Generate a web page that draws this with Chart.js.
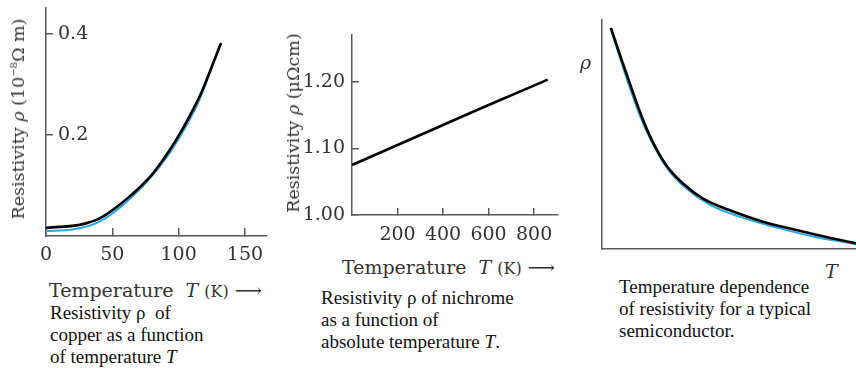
<!DOCTYPE html>
<html>
<head>
<meta charset="utf-8">
<script src="https://cdn.jsdelivr.net/npm/chart.js@4/dist/chart.umd.min.js"></script>
<style>
  body { margin: 0; width: 856px; height: 368px; background: #fff; position: relative; overflow: hidden; }
  canvas { position: absolute; }
  .lbl { position: absolute; white-space: nowrap; color: #333; font-family: 'DejaVu Serif', serif; font-size: 19px; line-height: 20px; }
  .ytitle { font-size: 17.5px; }
  .vert { transform: translate(-50%, -50%) rotate(-90deg); }
  .lbl sup { font-size: 10px; vertical-align: 7px; line-height: 0; }
  .small { font-size: 16px; }
  .cap { position: absolute; white-space: nowrap; color: #111; font-family: 'Liberation Serif', serif; font-size: 19px; line-height: 22px; }
</style>
</head>
<body>
<canvas id="copperChart" width="280" height="275" style="left:0;top:0"></canvas>
<canvas id="nichromeChart" width="270" height="255" style="left:296px;top:0"></canvas>
<canvas id="semiChart" width="266" height="260" style="left:590px;top:0"></canvas>

<div class="lbl ytitle vert" style="left:18px;top:119px">Resistivity <i>ρ</i> (10<sup>−8</sup>Ω m)</div>
<div class="lbl" style="left:49px;top:280px">Temperature&nbsp; <i>T</i> <span class="small">(K)</span> ⟶</div>
<div class="cap" style="left:50px;top:302px">Resistivity ρ&nbsp; of<br>copper as a function<br>of temperature <i>T</i></div>

<div class="lbl ytitle vert" style="left:293px;top:123px">Resistivity <i>ρ</i> (μΩcm)</div>
<div class="lbl" style="left:342px;top:257px">Temperature&nbsp; <i>T</i> <span class="small">(K)</span> ⟶</div>
<div class="cap" style="left:321px;top:287px">Resistivity ρ of nichrome<br>as a function of<br>absolute temperature <i>T</i>.</div>

<div class="lbl" style="left:580px;top:52px"><i>ρ</i></div>
<div class="lbl" style="left:825px;top:261px"><i>T</i></div>
<div class="cap" style="left:619px;top:276px">Temperature dependence<br>of resistivity for a typical<br>semiconductor.</div>

<script>
'use strict';

// Copper: temperature (K) and resistivity (10^-8 ohm m)
let copperTemps = [0, 10, 20, 30, 38, 45, 53, 62, 71, 80, 88, 98, 108, 117, 126, 132];
let copperRho = [0.016, 0.018, 0.02, 0.025, 0.032, 0.042, 0.057, 0.076, 0.097, 0.122, 0.15, 0.19, 0.236, 0.283, 0.342, 0.382];
// faint blue trace printed under the copper curve
let copperBlueTemps = [0, 20, 40, 60, 85, 100, 115, 131];
let copperBlueRho = [0.010, 0.013, 0.028, 0.066, 0.135, 0.192, 0.266, 0.378];
let copperTicksX = [0, 50, 100, 150];
let copperTicksY = [0.2, 0.4];

// Nichrome: temperature (K) and resistivity (micro ohm cm)
let nichromeTemps = [0, 200, 400, 600, 860];
let nichromeRho = [1.075, 1.105, 1.135, 1.165, 1.203];
let nichromeTicksX = [200, 400, 600, 800];
let nichromeTicksY = [1.00, 1.10, 1.20];

// Semiconductor: arbitrary units, no ticks
let semiTemps = [3.5, 7.5, 11.4, 15.4, 19.3, 25.2, 31.8, 39.6, 50.1, 63.3, 76.4, 89.5, 100];
let semiRho = [96.6, 83.3, 70.9, 58.5, 48.3, 36.7, 28.7, 22.1, 17.0, 11.9, 8.3, 4.9, 2.5];
let semiBlueTemps = [3.5, 10, 15, 20, 26, 33, 42, 55, 70, 85, 100];
let semiBlueRho = [96, 73.5, 58, 45.8, 34.8, 26.6, 19.6, 13.8, 9.0, 5.0, 2.2];

const axisColor = '#5a5a5a';
const tickFont = { family: 'DejaVu Serif', size: 19 };

// turns two arrays into {x, y} points
function toPoints(xs, ys) {
  return xs.map((x, i) => ({ x: x, y: ys[i] }));
}

function lineSet(xs, ys, color, width) {
  return {
    data: toPoints(xs, ys),
    borderColor: color,
    borderWidth: width,
    pointRadius: 0,
    fill: false,
    cubicInterpolationMode: 'monotone'
  };
}

// one linear axis; size forces the width (y) or height (x) of the scale box
function scaleOptions(axis, min, max, tickValues, size, tickLen, pad, decimals, mirror) {
  let hasTicks = tickValues.length > 0;
  return {
    type: 'linear',
    min: min,
    max: max,
    border: { display: true, color: axisColor, width: 1.5 },
    grid: { display: hasTicks, drawOnChartArea: false, drawTicks: true, tickLength: tickLen, color: axisColor, lineWidth: 1.5 },
    ticks: {
      display: hasTicks,
      padding: pad,
      mirror: mirror,
      color: '#333',
      font: tickFont,
      callback: v => v.toFixed(decimals)
    },
    afterBuildTicks: s => {
      if (hasTicks) {
        s.ticks = tickValues.map(v => ({ value: v }));
      }
    },
    afterFit: s => {
      if (axis === 'x') {
        s.height = size;
      } else {
        s.width = size;
      }
      // labels stay inside the boxes we give, so no extra room around the plot
      s.paddingTop = 0;
      s.paddingBottom = 0;
      s.paddingLeft = 0;
      s.paddingRight = 0;
    }
  };
}

function makeChart(id, datasets, xScale, yScale, padding) {
  return new Chart(document.getElementById(id), {
    type: 'line',
    data: { datasets: datasets },
    options: {
      responsive: false,
      animation: false,
      events: [],
      layout: { padding: padding, autoPadding: false },
      plugins: { legend: { display: false }, tooltip: { enabled: false } },
      scales: { x: xScale, y: yScale }
    }
  });
}

// Copper panel
makeChart('copperChart',
  [lineSet(copperTemps, copperRho, '#000', 2.6), lineSet(copperBlueTemps, copperBlueRho, '#2aa6e0', 2)],
  scaleOptions('x', 0, 166.6, copperTicksX, 39, -8, 16, 0, false),
  scaleOptions('y', 0, 0.4515, copperTicksY, 46, -7, 12, 1, true),
  { top: 8, right: 13, left: 0, bottom: 0 });

// Nichrome panel
makeChart('nichromeChart',
  [lineSet(nichromeTemps, nichromeRho, '#000', 2.6)],
  scaleOptions('x', 0, 905, nichromeTicksX, 40, -7, 16, 0, false),
  scaleOptions('y', 1.0, 1.27, nichromeTicksY, 56, -7, 14, 2, false),
  { top: 35, right: 8, left: 0, bottom: 0 });

// Semiconductor panel
makeChart('semiChart',
  [lineSet(semiTemps, semiRho, '#000', 2.6), lineSet(semiBlueTemps, semiBlueRho, '#2aa6e0', 2)],
  scaleOptions('x', 0, 100, [], 11, 0, 0, 0, false),
  scaleOptions('y', 0, 100, [], 12, 0, 0, 0, false),
  { top: 20, right: 0, left: 0, bottom: 0 });
</script>
</body>
</html>
